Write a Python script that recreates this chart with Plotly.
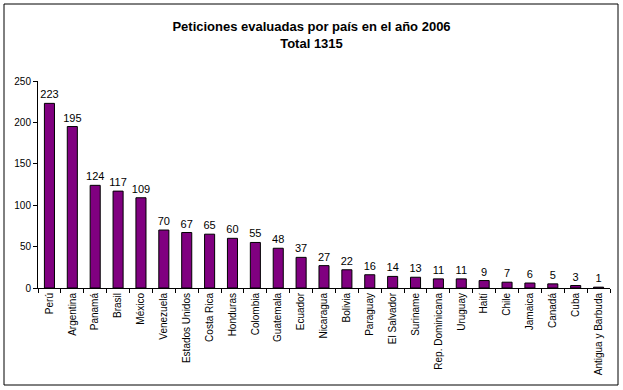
import plotly.graph_objects as go

paises = ["Perú", "Argentina", "Panamá", "Brasil", "México", "Venezuela", "Estados Unidos",
          "Costa Rica", "Honduras", "Colombia", "Guatemala", "Ecuador", "Nicaragua", "Bolivia",
          "Paraguay", "El Salvador", "Suriname", "Rep. Dominicana", "Uruguay", "Haití", "Chile",
          "Jamaica", "Canadá", "Cuba", "Antigua y Barbuda"]
peticiones = [223, 195, 124, 117, 109, 70, 67, 65, 60, 55, 48, 37, 27, 22, 16, 14, 13, 11, 11,
              9, 7, 6, 5, 3, 1]

W, H = 623, 390
ml, mr, mt, mb = 38, 13, 81, 102
pw, ph = W - ml - mr, H - mt - mb

def px_x(x):
    return (x - ml) / pw

def px_y(y):
    return (H - mb - y) / ph

fig = go.Figure(go.Bar(
    x=paises, y=peticiones,
    marker=dict(color="#800080", line=dict(color="black", width=1)),
    text=[str(v) for v in peticiones], textposition="outside",
    textfont=dict(family="Arial", size=11, color="black"),
    constraintext="none",
    cliponaxis=False,
))

fig.update_layout(
    width=W, height=H,
    margin=dict(l=ml, r=mr, t=mt, b=mb),
    paper_bgcolor="white", plot_bgcolor="white",
    bargap=0.56,
    showlegend=False,
    font=dict(family="Arial", size=10, color="black"),
    title=dict(text="<b>Peticiones evaluadas por país en el año 2006<br>Total 1315</b>",
               x=0.5, xanchor="center", y=1 - 35 / H, yanchor="middle",
               font=dict(family="Arial", size=13, color="black")),
    xaxis=dict(showline=True, linecolor="black", linewidth=1, ticks="outside",
               tickson="boundaries", ticklen=4, tickcolor="black", tickangle=-90,
               tickfont=dict(family="Arial", size=10), showgrid=False),
    yaxis=dict(range=[0, 250], dtick=50, showline=True, linecolor="black", linewidth=1,
               ticks="outside", ticklen=4, tickcolor="black", showgrid=False, zeroline=False,
               tickfont=dict(family="Arial", size=10)),
    shapes=[dict(type="rect", xref="paper", yref="paper",
                 x0=px_x(4), x1=px_x(618), y0=px_y(385), y1=px_y(4),
                 line=dict(color="black", width=1), fillcolor="rgba(0,0,0,0)", layer="below")],
)

fig.update_layout(title_y=1 - 31 / H)

fig.write_html("out.html", config={"displayModeBar": False},
               post_script="document.body.style.margin='0';")
